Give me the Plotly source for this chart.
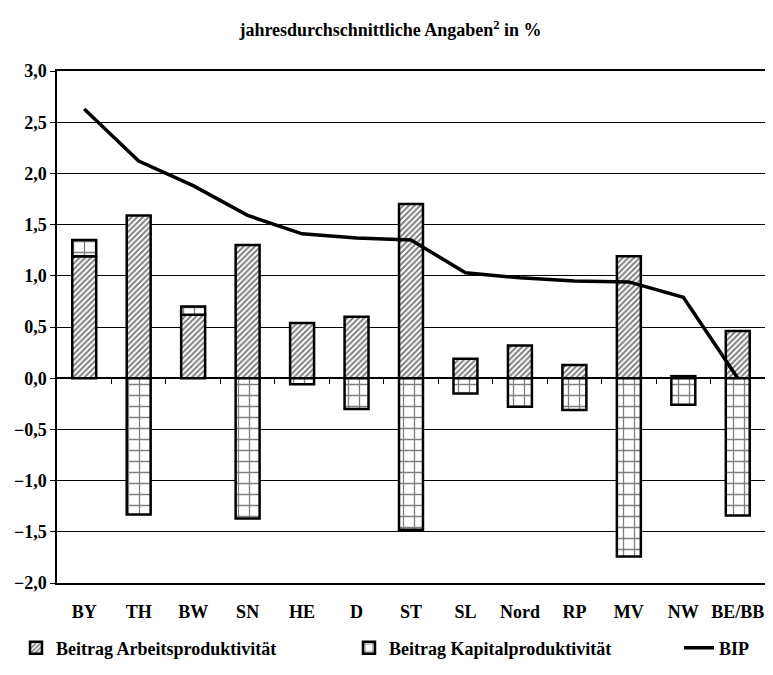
import plotly.graph_objects as go

# Daten
regionen = ['BY', 'TH', 'BW', 'SN', 'HE', 'D', 'ST', 'SL', 'Nord', 'RP', 'MV', 'NW', 'BE/BB']
arbeit = [1.19, 1.59, 0.62, 1.30, 0.54, 0.60, 1.70, 0.19, 0.32, 0.13, 1.19, 0.02, 0.46]
kapital = [0.16, -1.33, 0.08, -1.37, -0.06, -0.30, -1.48, -0.15, -0.28, -0.31, -1.74, -0.26, -1.34]
bip = [2.63, 2.12, 1.88, 1.59, 1.41, 1.37, 1.35, 1.03, 0.98, 0.95, 0.94, 0.79, 0.0]

titel = '<b>jahresdurchschnittliche Angaben<sup>2</sup> in %</b>'
schrift = 'Liberation Serif'

# die Seite hat 8 px Rand, daher etwas kleiner als das Fenster
breite, hoehe = 765, 667

fig = go.Figure()

fig.add_trace(go.Bar(
    x=regionen, y=arbeit,
    name='<b>Beitrag Arbeitsproduktivität</b>',
    legend='legend',
    marker=dict(color='white',
                line=dict(color='black', width=2.5),
                pattern=dict(shape='/', fgcolor='black', bgcolor='white',
                             size=4, solidity=0.5)),
))
fig.add_trace(go.Bar(
    x=regionen, y=kapital,
    name='<b>Beitrag Kapitalproduktivität</b>',
    legend='legend2',
    marker=dict(color='white',
                line=dict(color='black', width=2.5),
                pattern=dict(shape='+', fgcolor='black', bgcolor='white',
                             size=11, solidity=0.22)),
))
fig.add_trace(go.Scatter(
    x=regionen, y=bip,
    name='<b>BIP</b>', mode='lines',
    legend='legend3',
    line=dict(color='black', width=3.5),
))

# Hilfsachse auf der Nulllinie mit Strichen zwischen den Kategorien
grenzen = [i + 0.5 for i in range(len(regionen) - 1)]


def legende(x_px):
    return dict(orientation='h', xref='container', yref='container',
                x=x_px / breite, y=27 / hoehe, yanchor='middle', xanchor='left',
                bgcolor='rgba(0,0,0,0)', font=dict(size=18))


fig.update_layout(
    width=breite, height=hoehe,
    separators=',.',
    barmode='relative',
    bargap=0.56,
    plot_bgcolor='white',
    paper_bgcolor='white',
    font=dict(family=schrift, size=18, color='black'),
    margin=dict(l=44, r=6, t=63, b=92),
    title=dict(text=titel, x=0.5, xanchor='center', y=1 - 22 / hoehe, yanchor='middle',
               font=dict(family=schrift, size=18, color='black')),
    xaxis=dict(showline=True, linecolor='black', linewidth=1.5, mirror=True,
               ticks='', ticklabelstandoff=12, showgrid=False,
               tickfont=dict(size=18, weight='bold')),
    xaxis2=dict(overlaying='x', anchor='free', position=0.4, side='bottom',
                range=[-0.5, len(regionen) - 0.5], showline=True, linecolor='black',
                linewidth=1.5, ticks='outside', ticklen=5, tickcolor='black',
                tickvals=grenzen, showticklabels=False, showgrid=False, zeroline=False),
    yaxis=dict(range=[-2, 3], dtick=0.5, tickformat='.1f',
               showline=True, linecolor='black', linewidth=1.5, mirror=True,
               showgrid=True, gridcolor='black', gridwidth=1,
               zeroline=False, ticks='outside', ticklen=5, tickcolor='black',
               tickfont=dict(size=18, weight='bold')),
    showlegend=True,
    legend=legende(8),
    legend2=legende(341),
    legend3=legende(671),
)

# unsichtbare Spur, damit die Hilfsachse gezeichnet wird
fig.add_trace(go.Scatter(x=[0], y=[0], xaxis='x2', mode='markers',
                         marker=dict(opacity=0), showlegend=False, hoverinfo='skip'))

fig.write_html("out.html")
